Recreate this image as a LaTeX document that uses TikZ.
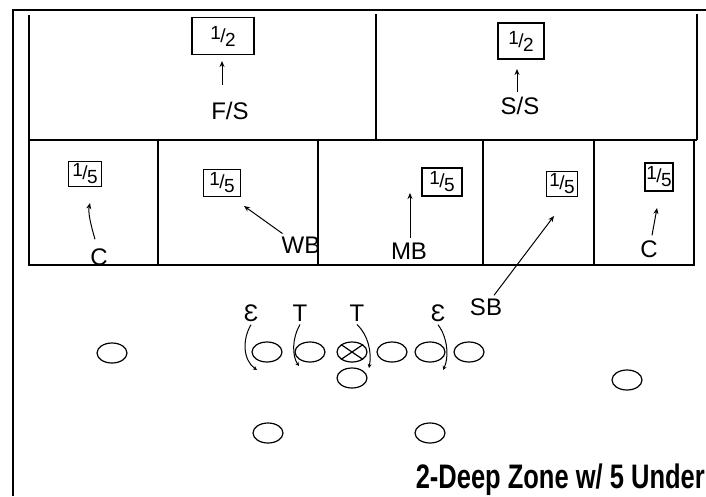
\documentclass[tikz,border=0pt]{standalone}
\usepackage{fontspec}
\setmainfont{Liberation Sans}
\usetikzlibrary{shapes.geometric,arrows.meta,calc}
\newcommand\hfr[2]{\raisebox{3pt}{#1}\kern-0.5pt/\kern-0.5pt\raisebox{-4pt}{#2}}
\begin{document}
\begin{tikzpicture}[x=1pt,y=-1pt,
  zone/.style={line width=1.3pt},
  frame/.style={line width=2pt},
  zbox/.style={draw,line width=1.4pt,inner sep=0pt,font=\fontsize{19}{19}\selectfont},
  lbl/.style={font=\fontsize{24}{24}\selectfont,inner sep=0pt},
  arr/.style={-{Stealth[length=6pt,width=5pt]},line width=1pt},
  larr/.style={-{Stealth[length=4pt,width=4pt]},line width=1pt},
  player/.style={draw,ellipse,line width=1.2pt,minimum width=30pt,minimum height=20pt,inner sep=0pt}]
\useasboundingbox (0,0) rectangle (706,496);
\fill[white] (0,0) rectangle (706,496);
% outer frame
\draw[frame] (13,496) -- (13,10) -- (706,10);
% zones
\draw[zone] (29,15) -- (29,265) -- (694,265) -- (694,140);
\draw[zone] (29,140) -- (697,140);
\draw[zone] (697,14) -- (697,140);
\draw[zone] (376,14) -- (376,140);
\foreach \x in {158,318,483,594} \draw[zone] (\x,140) -- (\x,265);
% deep zone boxes
\node[zbox,minimum width=62pt,minimum height=37pt] (fsbox) at (223,36) {\hfr{1}{2}\hspace{8pt}};
\node[zbox,minimum width=46pt,minimum height=36pt] (ssbox) at (521,41) {\hfr{1}{2}};
\node[lbl] (fs) at (230,111) {F/S};
\node[lbl] (ss) at (520,106) {S/S};
\coordinate (fst) at (222,61);
\coordinate (sst) at (517,69);
\draw[arr] ($(fs.north)+(-8,-17)$) -- (fst);
\draw[arr] ($(ss.north)+(-3,-5)$) -- (sst);
% under zone boxes
\node[zbox,minimum width=33pt,minimum height=25pt] (b1) at (85,174) {\hfr{1}{5}};
\node[zbox,minimum width=37pt,minimum height=27pt] (b2) at (222,183) {\hfr{1}{5}};
\node[zbox,minimum width=40pt,minimum height=28pt] (b3) at (442,182) {\hfr{1}{5}};
\node[zbox,minimum width=31pt,minimum height=25pt] (b4) at (562,184) {\hfr{1}{5}};
\node[zbox,minimum width=28pt,minimum height=28pt] (b5) at (659,177) {\hfr{1}{5}};
\node[lbl] (c1) at (99,257) {C};
\node[lbl] (wb) at (301,245) {WB};
\node[lbl] (mb) at (409,251) {MB};
\node[lbl] (sb) at (486,307) {SB};
\node[lbl] (c2) at (649,249) {C};
\coordinate (c1t) at (90,203);
\coordinate (wbt) at (244,206);
\coordinate (mbt) at (410,193);
\coordinate (sbt) at (554,216);
\coordinate (c2t) at (657,208);
\draw[arr] ($(c1.north)+(-4,-9)$) .. controls (90,222) and (88,212) .. (c1t);
\draw[arr] ($(wb.north west)+(1,-3)$) -- (wbt);
\draw[arr] ($(mb.north)+(1,-5)$) -- (mbt);
\draw[arr] ($(sb.north)+(8,-3)$) -- (sbt);
\draw[arr] ($(c2.north)+(3,-5)$) -- (c2t);
% offense
\node[player] (wr1) at (112,353) {};
\node[player] (lt) at (267,352) {};
\node[player] (lg) at (310,352) {};
\node[player] (ctr) at (352,352) {};
\draw[line width=1.2pt] (ctr.north west) -- (ctr.south east) (ctr.north east) -- (ctr.south west);
\node[player] (rg) at (392,352) {};
\node[player] (rt) at (430,352) {};
\node[player] (te) at (469,352) {};
\node[player] (qb) at (352,378) {};
\node[player] (wr2) at (627,380) {};
\node[player] (rb1) at (268,433) {};
\node[player] (rb2) at (430,433) {};
% defensive line
\node[lbl] (e1) at (251,313) {Ɛ};
\node[lbl] (t1) at (300,313) {T};
\node[lbl] (t2) at (357,313) {T};
\node[lbl] (e2) at (438,313) {Ɛ};
\coordinate (e1t) at (257,370);
\coordinate (t1t) at (299,366);
\coordinate (t2t) at (369,368);
\coordinate (e2t) at (443,370);
\draw[larr] ($(e1.south)+(0,3)$) .. controls (242,340) and (243,360) .. (e1t);
\draw[larr] ($(t1.south)+(0,3)$) .. controls (292,338) and (292,356) .. (t1t);
\draw[larr] ($(t2.south)+(0,3)$) .. controls (368,335) and (372,352) .. (t2t);
\draw[larr] ($(e2.south)+(0,3)$) .. controls (448,338) and (449,358) .. (e2t);
% title
\node[anchor=base east,inner sep=0pt] (title) at (705,488) {\fontsize{34}{34}\selectfont\bfseries\scalebox{0.75}[1]{2-Deep Zone w/ 5 Under}};
\end{tikzpicture}
\end{document}
